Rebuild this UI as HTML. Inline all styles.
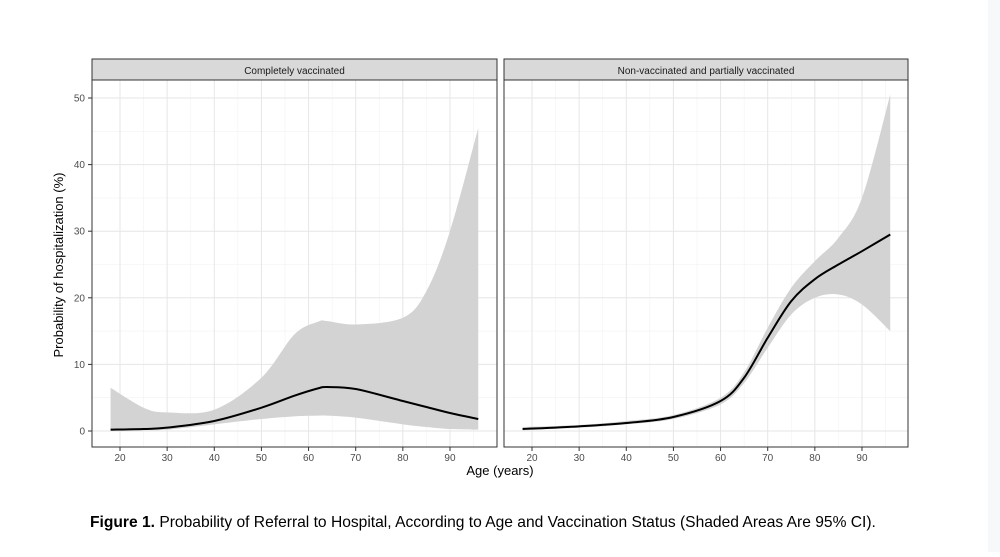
<!DOCTYPE html>
<html><head><meta charset="utf-8"><style>
body{margin:0;width:1000px;height:552px;background:#fff;font-family:"Liberation Sans",sans-serif;overflow:hidden}
</style></head><body>
<svg width="1000" height="552" xmlns="http://www.w3.org/2000/svg">
<rect x="0" y="0" width="1000" height="552" fill="#fff"/>
<rect x="988" y="0" width="12" height="552" fill="#f7f8f9"/>
<g id="chart"></g>
<text x="63" y="265" transform="rotate(-90 63 265)" text-anchor="middle" font-size="13" fill="#000">Probability of hospitalization (%)</text>
<text x="500" y="475" text-anchor="middle" font-size="13" fill="#000">Age (years)</text>
<text x="90" y="527" font-size="15.6" fill="#000"><tspan font-weight="bold">Figure 1.</tspan> Probability of Referral to Hospital, According to Age and Vaccination Status (Shaded Areas Are 95% CI).</text>
</svg>
<script>
const panelTitles=["Completely vaccinated","Non-vaccinated and partially vaccinated"];
const xTicks=[20,30,40,50,60,70,80,90];
const yTicks=[0,10,20,30,40,50];
const ageL=[18,25,30,40,50,57,62,64,70,80,85,90,96];
const meanL=[0.2,0.3,0.5,1.5,3.5,5.3,6.4,6.6,6.3,4.5,3.6,2.7,1.8];
const upL=[6.5,3.5,2.8,3.2,8,14.5,16.4,16.5,16,17,21,30,45.5];
const loL=[0,0.1,0.2,1,1.8,2.2,2.3,2.3,2,1,0.6,0.3,0.2];
const ageR=[18,30,40,50,60,65,70,75,80,85,90,96];
const meanR=[0.3,0.7,1.2,2.1,4.5,8,14,19.5,22.8,25,27,29.5];
const upR=[0.6,0.9,1.5,2.4,5,8.8,15.5,21.5,25.5,29,35,50.5];
const loR=[0.1,0.5,1,1.8,4,7.2,12.5,17.5,20,20.5,19,15];
const panels=[{x0:92,x1:497,age:ageL,m:meanL,u:upL,l:loL},{x0:504,x1:908,age:ageR,m:meanR,u:upR,l:loR}];
const NS="http://www.w3.org/2000/svg";
const g=document.getElementById('chart');
const yTop=80,yBot=447;
const ys=v=>431-v*6.66;
function mk(t,a,p){const e=document.createElementNS(NS,t);for(const k in a)e.setAttribute(k,a[k]);(p||g).appendChild(e);return e;}
function smooth(pts){let d="M"+pts[0][0]+","+pts[0][1];for(let i=0;i<pts.length-1;i++){const p0=pts[Math.max(0,i-1)],p1=pts[i],p2=pts[i+1],p3=pts[Math.min(pts.length-1,i+2)];d+=" C"+(p1[0]+(p2[0]-p0[0])/6)+","+(p1[1]+(p2[1]-p0[1])/6)+" "+(p2[0]-(p3[0]-p1[0])/6)+","+(p2[1]-(p3[1]-p1[1])/6)+" "+p2[0]+","+p2[1];}return d;}
panels.forEach((P,pi)=>{
  const xs=a=>P.x0+28+(a-20)*4.714;
  const grp=mk('g',{});
  
  
  mk('rect',{x:P.x0,y:yTop,width:P.x1-P.x0,height:yBot-yTop,fill:'#fff'},grp);
  for(let i=0;i<yTicks.length-1;i++)mk('line',{x1:P.x0,x2:P.x1,y1:ys(yTicks[i]+5),y2:ys(yTicks[i]+5),stroke:'#f2f2f2','stroke-width':0.6},grp);
  for(let i=0;i<xTicks.length;i++)mk('line',{x1:xs(xTicks[i]+5),x2:xs(xTicks[i]+5),y1:yTop,y2:yBot,stroke:'#f2f2f2','stroke-width':0.6},grp);
  yTicks.forEach(v=>{const l=mk('line',{x1:P.x0,x2:P.x1,y1:ys(v),y2:ys(v),stroke:'#e6e6e6','stroke-width':1},grp);});
  xTicks.forEach(v=>{const l=mk('line',{x1:xs(v),x2:xs(v),y1:yTop,y2:yBot,stroke:'#e6e6e6','stroke-width':1},grp);
    mk('line',{x1:xs(v),x2:xs(v),y1:yBot,y2:yBot+4,stroke:'#333'},grp);
    const t=mk('text',{x:xs(v),y:yBot+14,'text-anchor':'middle','font-size':10,fill:'#4d4d4d'},grp);t.textContent=v;});
  const up=P.age.map((a,i)=>[xs(a),ys(P.u[i])]);
  const lo=P.age.map((a,i)=>[xs(a),ys(P.l[i])]).reverse();
  const dU=smooth(up),dL=smooth(lo).replace(/^M/,"L");
  const band=mk('path',{d:dU+" "+dL+" Z",fill:'#d3d3d3',stroke:'none'},grp);
  
  const line=mk('path',{d:smooth(P.age.map((a,i)=>[xs(a),ys(P.m[i])])),fill:'none',stroke:'#000','stroke-width':2},grp);
  
  mk('rect',{x:P.x0,y:yTop,width:P.x1-P.x0,height:yBot-yTop,fill:'none',stroke:'#333','stroke-width':1},grp);
  const st=mk('rect',{x:P.x0,y:59,width:P.x1-P.x0,height:21,fill:'#d9d9d9',stroke:'#333','stroke-width':1},grp);
  
  const tt=mk('text',{x:(P.x0+P.x1)/2,y:74,'text-anchor':'middle','font-size':10,fill:'#1a1a1a'},grp);tt.textContent=panelTitles[pi];
  
  if(pi===0){yTicks.forEach(v=>{mk('line',{x1:P.x0-4,x2:P.x0,y1:ys(v),y2:ys(v),stroke:'#333'},grp);
    const t=mk('text',{x:P.x0-7,y:ys(v)+3.5,'text-anchor':'end','font-size':10,fill:'#4d4d4d'},grp);t.textContent=v;});}
});
</script>
</body></html>
